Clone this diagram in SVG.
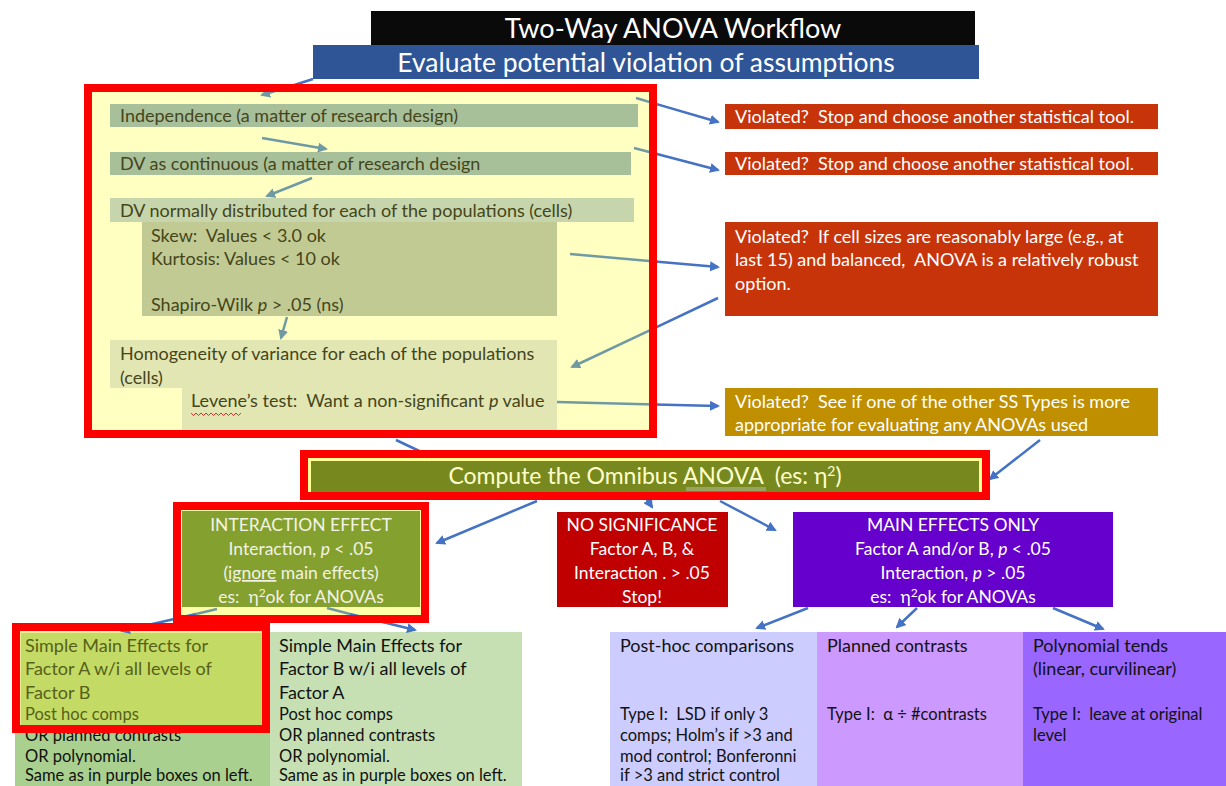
<svg xmlns="http://www.w3.org/2000/svg" width="1226" height="786" viewBox="0 0 1226 786" xml:space="preserve">
<defs>
<style>
text{font-family:Lato,"Liberation Sans",sans-serif;font-size:18px;white-space:pre}
.w{fill:#FFFFFF}
.cr{fill:#F3F3E4}
.ol{fill:#45451A}
.k{fill:#111111}
.c{text-anchor:middle}
.i{font-style:italic}
.m{font-size:17.5px}
.s{font-size:16.5px}
.cb{stroke:#4472C4;stroke-width:2.5;fill:none}
.cg{stroke:#6F9AA3;stroke-width:2.5;fill:none}
.hl{fill:none;stroke:#FF0000;stroke-width:8}
</style>
<marker id="ab" viewBox="0 0 10 10" refX="8" refY="5" markerWidth="4" markerHeight="4" orient="auto" markerUnits="strokeWidth"><path d="M0,0 L10,5 L0,10 z" fill="#4472C4"/></marker>
<marker id="ag" viewBox="0 0 10 10" refX="8" refY="5" markerWidth="4" markerHeight="4" orient="auto" markerUnits="strokeWidth"><path d="M0,0 L10,5 L0,10 z" fill="#6F9AA3"/></marker>
</defs>
<rect width="1226" height="786" fill="#FFFFFF"/>

<g id="title">
<rect x="371" y="11" width="604" height="34" fill="#0A0A0A"/>
<text x="673" y="38" class="w c" style="font-size:27px">Two-Way ANOVA Workflow</text>
</g>
<g id="evaluate">
<rect x="313" y="45" width="666" height="34" fill="#2F5597"/>
<text x="646" y="72" class="w c" style="font-size:26.5px">Evaluate potential violation of assumptions</text>
</g>

<g id="assumptions">
<rect x="88" y="88" width="565" height="346" fill="#FFFFC2"/>
<g id="independence">
<rect x="110" y="104" width="528" height="23" fill="#A8C09A"/>
<text x="120" y="122" class="ol">Independence (a matter of research design)</text>
</g>
<g id="continuous">
<rect x="110" y="152" width="521" height="23" fill="#A8C09A"/>
<text x="120" y="170" class="ol">DV as continuous (a matter of research design</text>
</g>
<g id="normality">
<rect x="110" y="198" width="524" height="24" fill="#C6D5AB"/>
<rect x="142" y="222" width="415" height="94" fill="#C2CA94"/>
<text x="120" y="217" class="ol">DV normally distributed for each of the populations (cells)</text>
<text x="151" y="242" class="ol">Skew:  Values &lt; 3.0 ok</text>
<text x="151" y="265" class="ol">Kurtosis: Values &lt; 10 ok</text>
<text x="151" y="311" class="ol">Shapiro-Wilk <tspan class="i">p</tspan> &gt; .05 (ns)</text>
</g>
<g id="homogeneity">
<rect x="110" y="340" width="447" height="48" fill="#E2E6B3"/>
<rect x="182" y="388" width="375" height="42" fill="#E2E6B3"/>
<text x="120" y="360" class="ol">Homogeneity of variance for each of the populations</text>
<text x="120" y="384" class="ol">(cells)</text>
<text x="191" y="407" class="ol">Levene’s test:  Want a non-significant <tspan class="i">p</tspan> value</text>
<path d="M191,413 l2.5,2.5 l2.5,-2.5 l2.5,2.5 l2.5,-2.5 l2.5,2.5 l2.5,-2.5 l2.5,2.5 l2.5,-2.5 l2.5,2.5 l2.5,-2.5 l2.5,2.5 l2.5,-2.5 l2.5,2.5 l2.5,-2.5 l2.5,2.5 l2.5,-2.5 l2.5,2.5 l2.5,-2.5 l2.5,2.5 l2.5,-2.5" fill="none" stroke="#E03030" stroke-width="1"/>
</g>
</g>

<g id="violated1">
<rect x="725" y="104" width="433" height="25" fill="#C8340A"/>
<text x="735" y="123" class="w">Violated?  Stop and choose another statistical tool.</text>
</g>
<g id="violated2">
<rect x="725" y="152" width="433" height="23" fill="#C8340A"/>
<text x="735" y="170" class="w">Violated?  Stop and choose another statistical tool.</text>
</g>
<g id="violated3">
<rect x="725" y="222" width="433" height="94" fill="#C8340A"/>
<text x="735" y="243" class="w">Violated?  If cell sizes are reasonably large (e.g., at</text>
<text x="735" y="266" class="w">last 15) and balanced,  ANOVA is a relatively robust</text>
<text x="735" y="290" class="w">option.</text>
</g>
<g id="violated4">
<rect x="725" y="388" width="433" height="48" fill="#BF8F00"/>
<text x="735" y="408" class="w">Violated?  See if one of the other SS Types is more</text>
<text x="735" y="431" class="w">appropriate for evaluating any ANOVAs used</text>
</g>

<g id="omnibus">
<rect x="308" y="458" width="674" height="38" fill="#FFFF99"/>
<rect x="311" y="461" width="668" height="31" fill="#77891E"/>
<text x="645" y="484" class="c" style="font-size:23px;fill:#FFFFCC">Compute the Omnibus ANOVA  (es: η<tspan dy="-8" style="font-size:14px">2</tspan><tspan dy="8">)</tspan></text>
<line x1="686" y1="488" x2="766" y2="488" stroke="#B8C0A0" stroke-width="1"/>
<line x1="686" y1="490" x2="766" y2="490" stroke="#B8C0A0" stroke-width="1"/>
</g>

<g id="interaction">
<rect x="181" y="510" width="240" height="106" fill="#FFFFAA"/>
<rect x="182" y="511" width="238" height="96" fill="#84A02E"/>
<text x="301" y="531" class="cr c m">INTERACTION EFFECT</text>
<text x="301" y="555" class="cr c m">Interaction, <tspan class="i">p</tspan> &lt; .05</text>
<text x="301" y="579" class="cr c m">(<tspan text-decoration="underline">ignore</tspan> main effects)</text>
<text x="301" y="603" class="cr c m">es:  η<tspan dy="-6" style="font-size:12px">2</tspan><tspan dy="6">ok for ANOVAs</tspan></text>
</g>

<g id="nosig">
<rect x="557" y="512" width="171" height="95" fill="#C00000"/>
<text x="642" y="531" class="w c m">NO SIGNIFICANCE</text>
<text x="642" y="555" class="w c m">Factor A, B, &amp;</text>
<text x="642" y="579" class="w c m">Interaction . &gt; .05</text>
<text x="642" y="603" class="w c m">Stop!</text>
</g>

<g id="maineffects">
<rect x="793" y="512" width="320" height="95" fill="#6600CC"/>
<text x="953" y="531" class="w c m">MAIN EFFECTS ONLY</text>
<text x="953" y="555" class="w c m">Factor A and/or B, <tspan class="i">p</tspan> &lt; .05</text>
<text x="953" y="579" class="w c m">Interaction, <tspan class="i">p</tspan> &gt; .05</text>
<text x="953" y="603" class="w c m">es:  η<tspan dy="-6" style="font-size:12px">2</tspan><tspan dy="6">ok for ANOVAs</tspan></text>
</g>

<g id="simpleA">
<rect x="15" y="630" width="255" height="156" fill="#A9D08E"/>
<rect x="20" y="632" width="246" height="94" fill="#C3DB64" stroke="#F4F49A" stroke-width="2"/>
<text x="25" y="652" style="fill:#56601A">Simple Main Effects for</text>
<text x="25" y="675" style="fill:#56601A">Factor A w/i all levels of</text>
<text x="25" y="699" style="fill:#56601A">Factor B</text>
<text x="25" y="720" class="s" style="fill:#56601A">Post hoc comps</text>
<text x="25" y="741" class="k s">OR planned contrasts</text>
<text x="25" y="762" class="k s">OR polynomial.</text>
<text x="25" y="781" class="k s">Same as in purple boxes on left.</text>
</g>

<g id="simpleB">
<rect x="270" y="632" width="252" height="154" fill="#C6E0B4"/>
<text x="279" y="652" class="k">Simple Main Effects for</text>
<text x="279" y="675" class="k">Factor B w/i all levels of</text>
<text x="279" y="699" class="k">Factor A</text>
<text x="279" y="720" class="k s">Post hoc comps</text>
<text x="279" y="741" class="k s">OR planned contrasts</text>
<text x="279" y="762" class="k s">OR polynomial.</text>
<text x="279" y="781" class="k s">Same as in purple boxes on left.</text>
</g>

<g id="posthoc">
<rect x="610" y="632" width="207" height="154" fill="#CCCCFF"/>
<text x="620" y="652" class="k">Post-hoc comparisons</text>
<text x="620" y="720" class="k s">Type I:  LSD if only 3</text>
<text x="620" y="741" class="k s">comps; Holm’s if &gt;3 and</text>
<text x="620" y="762" class="k s">mod control; Bonferonni</text>
<text x="620" y="781" class="k s">if &gt;3 and strict control</text>
</g>
<g id="planned">
<rect x="817" y="632" width="206" height="154" fill="#CC99FF"/>
<text x="827" y="652" class="k">Planned contrasts</text>
<text x="827" y="720" class="k s">Type I:  α ÷ #contrasts</text>
</g>
<g id="polynomial">
<rect x="1023" y="632" width="203" height="154" fill="#9966FF"/>
<text x="1033" y="652" class="k">Polynomial tends</text>
<text x="1033" y="675" class="k">(linear, curvilinear)</text>
<text x="1033" y="720" class="k s">Type I:  leave at original</text>
<text x="1033" y="741" class="k s">level</text>
</g>

<g id="connectors">
<line class="cb" x1="313" y1="79" x2="285" y2="88"/>
<line class="cg" x1="285" y1="88" x2="262" y2="95" marker-end="url(#ag)"/>
<line class="cg" x1="262" y1="138" x2="326" y2="149" marker-end="url(#ag)"/>
<line class="cg" x1="312" y1="178" x2="267" y2="196" marker-end="url(#ag)"/>
<line class="cg" x1="287" y1="317" x2="281" y2="338" marker-end="url(#ag)"/>
<line class="cg" x1="636" y1="98" x2="655" y2="103.6"/>
<line class="cb" x1="655" y1="103.6" x2="718" y2="122" marker-end="url(#ab)"/>
<line class="cg" x1="634" y1="148" x2="655" y2="153.5"/>
<line class="cb" x1="655" y1="153.5" x2="718" y2="170" marker-end="url(#ab)"/>
<line class="cg" x1="570" y1="254" x2="655" y2="261.5"/>
<line class="cb" x1="655" y1="261.5" x2="718" y2="267" marker-end="url(#ab)"/>
<line class="cb" x1="718" y1="298" x2="655" y2="327.8"/>
<line class="cg" x1="655" y1="327.8" x2="572" y2="367" marker-end="url(#ag)"/>
<line class="cg" x1="557" y1="402" x2="655" y2="404.4"/>
<line class="cb" x1="655" y1="404.4" x2="718" y2="406" marker-end="url(#ab)"/>
<line class="cb" x1="1040" y1="440" x2="990" y2="479" marker-end="url(#ab)"/>
<line class="cb" x1="396" y1="440" x2="432" y2="457"/>
<line class="cb" x1="537" y1="501" x2="437" y2="543" marker-end="url(#ab)"/>
<line class="cb" x1="642" y1="492" x2="652" y2="507" marker-end="url(#ab)"/>
<line class="cb" x1="720" y1="501" x2="775" y2="530" marker-end="url(#ab)"/>
<line class="cg" x1="217" y1="609" x2="196" y2="614"/>
<line class="cb" x1="196" y1="614" x2="122" y2="631" marker-end="url(#ab)"/>
<line class="cg" x1="327" y1="608" x2="350" y2="614"/>
<line class="cb" x1="350" y1="614" x2="415" y2="630" marker-end="url(#ab)"/>
<line class="cb" x1="808" y1="608" x2="757" y2="628" marker-end="url(#ab)"/>
<line class="cb" x1="917" y1="608" x2="897" y2="627" marker-end="url(#ab)"/>
<line class="cb" x1="1053" y1="608" x2="1103" y2="629" marker-end="url(#ab)"/>
</g>

<g id="highlights">
<rect class="hl" x="88" y="88" width="565" height="346"/>
<rect class="hl" x="304" y="454" width="682" height="42"/>
<rect class="hl" x="177" y="506" width="248" height="113"/>
<rect class="hl" x="16" y="627" width="250" height="102"/>
</g>
</svg>
